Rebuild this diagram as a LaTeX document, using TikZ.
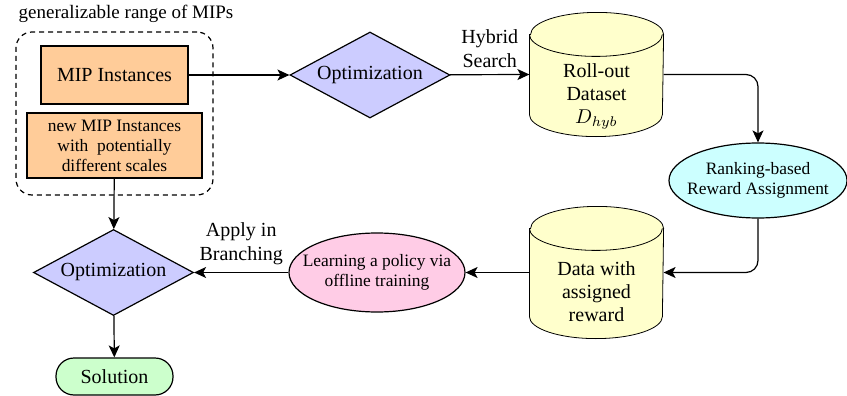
\documentclass[tikz,border=0pt]{standalone}
\usepackage{fontspec}
\setmainfont{Liberation Serif}
\usetikzlibrary{shapes.geometric, arrows.meta, backgrounds}

\definecolor{instorange}{HTML}{FFCC99}
\definecolor{optpurple}{HTML}{CCCCFF}
\definecolor{datayellow}{HTML}{FFFFCC}
\definecolor{rankcyan}{HTML}{CCFFFF}
\definecolor{learnpink}{HTML}{FFCCE6}
\definecolor{solgreen}{HTML}{CCFFCC}

\newcommand{\smallsz}{\fontsize{8.7}{10}\selectfont}
% text of a drum sits below its top cap
\newcommand{\drumtext}[1]{\raisebox{-13pt}[0pt][0pt]{\begin{tabular}{@{}c@{}}#1\end{tabular}}}
% drum outline round the body node #1, drawn behind it
\newcommand{\drumoutline}[1]{%
  \begin{scope}[on background layer]
    \draw[fill=datayellow] (#1.north west) -- (#1.south west)
      arc[start angle=180, end angle=360, x radius=33.25pt, y radius=11pt]
      -- (#1.north east)
      arc[start angle=0, end angle=180, x radius=33.25pt, y radius=11pt] -- cycle;
    \draw (#1.north west) arc[start angle=180, end angle=360, x radius=33.25pt, y radius=11pt];
  \end{scope}}

\tikzset{
  inst/.style={draw, fill=instorange, inner sep=1pt, align=center},
  decision/.style={diamond, draw, fill=optpurple, aspect=2, inner sep=1pt,
    minimum width=80pt, minimum height=43pt},
  store/.style={rectangle, inner sep=0pt, minimum width=66.5pt,
    font=\fontsize{10}{11.5}\selectfont},
  oval/.style={ellipse, draw, inner xsep=-8pt, inner ysep=0pt, align=center,
    font=\smallsz},
  groupbox/.style={draw, dashed, dash pattern=on 2.5pt off 2pt, rounded corners=8pt,
    minimum width=98.5pt, minimum height=81.5pt},
  lbl/.style={align=center, font=\fontsize{10}{12}\selectfont}
}

\begin{document}
\begin{tikzpicture}[x=0.5pt, y=-0.5pt, semithick,
  >={Stealth[length=6pt, width=5.5pt, inset=1.5pt]},
  font=\fontsize{10}{12}\selectfont]

  \useasboundingbox (0,0) rectangle (847,396);

  % left group
  \node[font=\fontsize{9.5}{11}\selectfont] (title) at (126,14) {generalizable range of MIPs};
  \node[groupbox] (group) at (114.5,113.5) {};
  \node[inst, minimum width=73.5pt, minimum height=29pt] (mip) at (114.5,75) {MIP Instances};
  \node[inst, minimum width=87.5pt, minimum height=32.5pt, font=\smallsz] (newmip) at (114.5,145.5)
    {new MIP Instances\\with\ \ potentially\\different scales};

  % top row
  \node[decision] (opt1) at (370,75) {Optimization};
  \node[store, minimum height=39.5pt] (rollout) at (596.5,74.5)
    {\drumtext{Roll-out\\Dataset\\$D_{hyb}$}};
  \drumoutline{rollout}
  \node[oval, fill=rankcyan, minimum width=89pt, minimum height=37.5pt] (rank) at (758,180.5)
    {Ranking-based\\Reward Assignment};

  % bottom row
  \node[store, minimum height=43.5pt] (assigned) at (596.5,272.5)
    {\drumtext{Data with\\assigned\\reward}};
  \drumoutline{assigned}
  \node[oval, fill=learnpink, minimum width=88pt, minimum height=39.5pt] (learn) at (377,272.5)
    {Learning a policy via\\offline training};
  \node[decision] (opt2) at (113.5,272.5) {Optimization};
  \node[draw, fill=solgreen, rounded corners=9pt, minimum width=58.5pt, minimum height=18.5pt] (sol)
    at (114.5,376.5) {Solution};

  % connectors
  \draw[->] (mip) -- (opt1);
  \draw[->] (opt1) -- node[lbl, above] {Hybrid\\Search} (rollout.west);
  \draw[->, rounded corners=6pt] (rollout.east) -| (rank.north);
  \draw[->, rounded corners=6pt] (rank.south) |- (assigned.east);
  \draw[->] (assigned.west) -- (learn);
  \draw[->] (learn) -- node[lbl, above] {Apply in\\Branching} (opt2);
  \draw[->] (newmip) -- (opt2);
  \draw[->] (opt2) -- (sol);

\end{tikzpicture}
\end{document}
